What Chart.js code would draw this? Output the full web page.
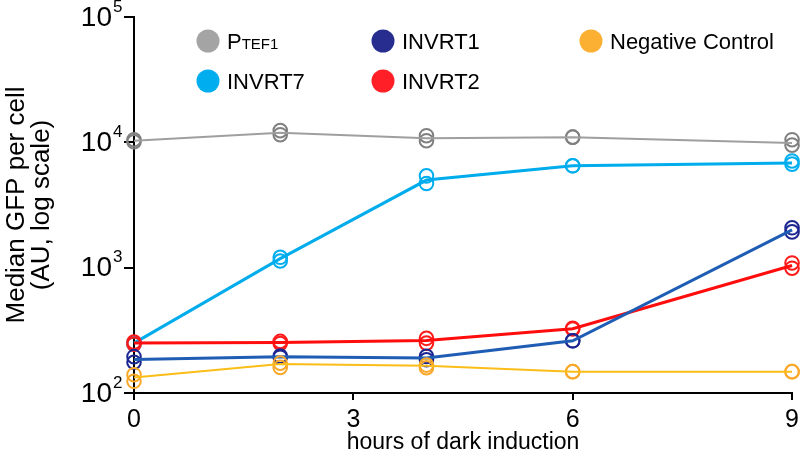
<!DOCTYPE html>
<html><head><meta charset="utf-8">
<script src="https://cdn.jsdelivr.net/npm/chart.js@4"></script>
<style>html,body{margin:0;padding:0;background:#fff}</style>
</head><body>
<canvas id="c" width="804" height="459"></canvas>
<script>
// ---- data ----
const hours = [0, 2, 4, 6, 9];
const xTicks = [0, 3, 6, 9];
const yTicks = [100, 1000, 10000, 100000];
const yTickBase = '10';
const yTickExponents = ['2', '3', '4', '5'];
const xTitle = 'hours of dark induction';
const yTitle = ['Median GFP per cell', '(AU, log scale)'];

// PTEF1
const tefLine = [10300, 11900, 10800, 11000, 9900];
const tefRepA = [10500, 12400, 11300, 11000, 10500];
const tefRepB = [10100, 11500, 10300, 11000, 9500];
// INVRT1
const inv1Line = [185, 195, 190, 261, 2000];
const inv1RepA = [195, 197, 196, 261, 2080];
const inv1RepB = [176, 193, 184, 261, 1930];
// Negative Control
const negLine = [133, 170, 165, 148, 148];
const negRepA = [140, 173, 167, 148, 148];
const negRepB = [124, 160, 159, 148, 148];
// INVRT7
const inv7Line = [250, 1180, 5000, 6500, 6850];
const inv7RepA = [245, 1210, 5400, 6500, 7100];
const inv7RepB = [252, 1130, 4700, 6500, 6700];
// INVRT2
const inv2Line = [250, 253, 262, 326, 1040];
const inv2RepA = [255, 258, 273, 328, 1090];
const inv2RepB = [245, 248, 250, 324, 990];

const FONT = "'Liberation Sans', Arial, Helvetica, sans-serif";

const series = [
  {name: 'PTEF1', line: tefLine, reps: [tefRepA, tefRepB], lineColor: '#9f9f9f', markColor: '#808080', lw: 2},
  {name: 'Negative Control', line: negLine, reps: [negRepA, negRepB], lineColor: '#fbbd18', markColor: '#f9a82a', lw: 2},
  {name: 'INVRT1', line: inv1Line, reps: [inv1RepA, inv1RepB], lineColor: '#1f5db5', markColor: '#1c2690', lw: 3},
  {name: 'INVRT2', line: inv2Line, reps: [inv2RepA, inv2RepB], lineColor: '#ff0d0d', markColor: '#ff1a1a', lw: 3},
  {name: 'INVRT7', line: inv7Line, reps: [inv7RepA, inv7RepB], lineColor: '#00acec', markColor: '#00aeef', lw: 3}
];

const datasets = [];
series.forEach(s => {
  datasets.push({
    label: s.name,
    data: hours.map((h, i) => ({x: h, y: s.line[i]})),
    borderColor: s.lineColor, borderWidth: s.lw, pointRadius: 0, fill: false, tension: 0, clip: false
  });
  s.reps.forEach(r => {
    datasets.push({
      label: s.name + ' replicate',
      data: hours.map((h, i) => ({x: h, y: r[i]})),
      showLine: false, pointRadius: 6.8, pointBorderWidth: 2,
      pointBorderColor: s.markColor, pointBackgroundColor: 'rgba(0,0,0,0)', clip: false
    });
  });
});

const legendItems = [
  {name: 'PTEF1', color: '#a4a4a4', col: 0, row: 0},
  {name: 'INVRT1', color: '#262d8e', col: 1, row: 0},
  {name: 'Negative Control', color: '#fbb034', col: 2, row: 0},
  {name: 'INVRT7', color: '#00aeef', col: 0, row: 1},
  {name: 'INVRT2', color: '#ff1f26', col: 1, row: 1}
];

const decor = {
  id: 'decor',
  afterDraw(chart) {
    const ctx = chart.ctx;
    const ys = chart.scales.y;
    ctx.save();
    ctx.fillStyle = '#000';
    // y tick labels with superscripts
    yTicks.forEach((v, i) => {
      const y = ys.getPixelForValue(v);
      ctx.font = '28px ' + FONT;
      ctx.textAlign = 'right';
      ctx.textBaseline = 'middle';
      ctx.fillText(yTickBase, 112, y + 1);
      ctx.font = '17px ' + FONT;
      ctx.textAlign = 'left';
      ctx.fillText(yTickExponents[i], 113, y - 10);
    });
    // legend
    const colX = [208, 383, 591];
    const rowY = [41, 81];
    legendItems.forEach(it => {
      const cx = colX[it.col], cy = rowY[it.row];
      ctx.beginPath();
      ctx.fillStyle = it.color;
      ctx.arc(cx, cy, 11.5, 0, Math.PI * 2);
      ctx.fill();
      ctx.fillStyle = '#000';
      ctx.textAlign = 'left';
      ctx.textBaseline = 'alphabetic';
      const tx = cx + 19, ty = cy + 8;
      if (it.name === 'PTEF1') {
        ctx.font = '22px ' + FONT;
        ctx.fillText('P', tx, ty);
        const w = ctx.measureText('P').width;
        ctx.font = '15px ' + FONT;
        ctx.fillText('TEF1', tx + w, ty);
      } else {
        ctx.font = '22px ' + FONT;
        ctx.fillText(it.name, tx, ty);
      }
    });
    ctx.restore();
  }
};

new Chart(document.getElementById('c'), {
  type: 'line',
  data: {datasets},
  plugins: [decor],
  options: {
    responsive: false,
    devicePixelRatio: 1,
    animation: false,
    layout: {padding: {left: 0, right: 11, top: 17, bottom: 0}},
    plugins: {legend: {display: false}, tooltip: {enabled: false}},
    scales: {
      x: {
        type: 'linear', min: 0, max: 9,
        afterBuildTicks(s) { s.ticks = xTicks.map(v => ({value: v})); },
        ticks: {color: '#000', font: {size: 25, family: FONT}, padding: 5, maxRotation: 0},
        grid: {drawOnChartArea: false, drawTicks: true, tickLength: 7, color: '#000', lineWidth: 2},
        border: {color: '#000', width: 2},
        title: {display: true, text: xTitle, color: '#000', font: {size: 23, family: FONT}, padding: {top: 0, bottom: 3}},
        afterFit(s) { s.height = 66; }
      },
      y: {
        type: 'logarithmic', min: 100, max: 100000,
        afterBuildTicks(s) { s.ticks = yTicks.map(v => ({value: v})); },
        ticks: {callback: () => '', font: {size: 1}},
        grid: {drawOnChartArea: false, drawTicks: true, tickLength: 10, color: '#000', lineWidth: 2},
        border: {color: '#000', width: 2},
        title: {display: true, text: yTitle, color: '#000', font: {size: 26, family: FONT, lineHeight: 0.98}, padding: {top: 4, bottom: 0}},
        afterFit(s) { s.width = 134; }
      }
    }
  }
});
</script>
</body></html>
